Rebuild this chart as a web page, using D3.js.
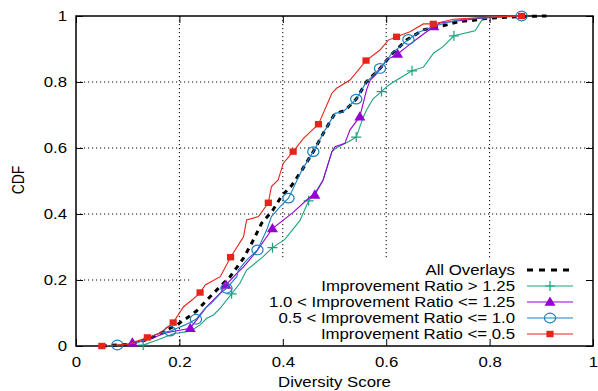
<!DOCTYPE html>
<html>
<head>
<meta charset="utf-8">
<script src="https://cdn.jsdelivr.net/npm/d3@7"></script>
<style>
  body { margin: 0; background: #fff; }
  text { font-family: "Liberation Sans", Arial, sans-serif; font-size: 14px; fill: #000; }
</style>
</head>
<body>
<div id="chart"></div>
<script>
// tick values + labels
const X_TICKS = [0, 0.2, 0.4, 0.6, 0.8, 1];
const X_LABELS = ["0", "0.2", "0.4", "0.6", "0.8", "1"];
const Y_TICKS = [0, 0.2, 0.4, 0.6, 0.8, 1];
const Y_LABELS = ["0", "0.2", "0.4", "0.6", "0.8", "1"];

const SERIES_NAMES = ["All Overlays", "Improvement Ratio > 1.25", "1.0 < Improvement Ratio <= 1.25",
  "0.5 < Improvement Ratio <= 1.0", "Improvement Ratio <= 0.5"];

// CDF points [diversity score, cdf]
const allOverlays = [[0.05,0],[0.10,0.005],[0.14,0.02],[0.175,0.048],[0.195,0.064],[0.214,0.084],[0.233,0.106],
  [0.250,0.134],[0.266,0.160],[0.298,0.21],[0.324,0.266],[0.343,0.321],[0.359,0.372],[0.380,0.41],[0.398,0.455],
  [0.417,0.486],[0.437,0.533],[0.459,0.589],[0.482,0.655],[0.501,0.705],[0.520,0.713],[0.542,0.748],[0.562,0.801],
  [0.588,0.841],[0.611,0.885],[0.640,0.928],[0.672,0.958],[0.717,0.973],[0.743,0.984],[0.765,0.986],[0.80,0.994],
  [0.86,0.998],[0.91,1.0]];

const ratioAbove125 = [[0.130,0.003],[0.16,0.02],[0.188,0.037],[0.221,0.045],[0.240,0.064],[0.253,0.084],[0.266,0.094],
  [0.279,0.115],[0.301,0.158],[0.317,0.190],[0.330,0.230],[0.362,0.271],[0.380,0.298],[0.404,0.323],[0.433,0.380],
  [0.450,0.440],[0.465,0.47],[0.478,0.503],[0.495,0.589],[0.503,0.60],[0.527,0.619],[0.542,0.633],[0.556,0.695],
  [0.562,0.715],[0.575,0.750],[0.591,0.771],[0.601,0.786],[0.614,0.800],[0.650,0.834],[0.672,0.845],[0.692,0.888],
  [0.710,0.907],[0.731,0.940],[0.772,0.955],[0.786,0.990],[0.80,0.997],[0.86,1.0]];
const ratioAbove125Marks = [0, 8, 12, 15, 21, 25, 28, 32];

const ratio100to125 = [[0.109,0.010],[0.14,0.02],[0.175,0.040],[0.221,0.054],[0.253,0.119],[0.279,0.160],[0.290,0.185],
  [0.311,0.220],[0.324,0.240],[0.349,0.286],[0.380,0.356],[0.42,0.405],[0.453,0.452],[0.462,0.458],[0.478,0.503],
  [0.495,0.589],[0.501,0.604],[0.520,0.614],[0.530,0.655],[0.549,0.695],[0.562,0.776],[0.569,0.806],[0.582,0.826],
  [0.601,0.867],[0.622,0.885],[0.640,0.907],[0.665,0.937],[0.692,0.968],[0.704,0.979],[0.787,0.994],[0.86,1.0]];
const ratio100to125Marks = [0, 3, 6, 10, 13, 19, 24, 27];

const ratio050to100 = [[0.080,0.003],[0.12,0.01],[0.156,0.036],[0.182,0.045],[0.211,0.064],[0.232,0.081],[0.25,0.115],
  [0.262,0.13],[0.28,0.16],[0.291,0.175],[0.311,0.21],[0.314,0.23],[0.33,0.26],[0.351,0.291],[0.369,0.352],
  [0.378,0.392],[0.395,0.422],[0.411,0.448],[0.437,0.533],[0.459,0.589],[0.482,0.655],[0.501,0.705],[0.517,0.710],
  [0.542,0.748],[0.562,0.801],[0.569,0.811],[0.588,0.841],[0.611,0.887],[0.643,0.929],[0.665,0.952],[0.691,0.968],
  [0.736,0.988],[0.80,0.997],[0.862,1.0]];
const ratio050to100Marks = [0, 3, 5, 9, 13, 17, 19, 23, 26, 28, 33];

const ratioBelow050 = [[0.05,0],[0.10,0.005],[0.138,0.026],[0.162,0.038],[0.188,0.071],[0.208,0.119],[0.225,0.14],
  [0.240,0.162],[0.250,0.185],[0.279,0.21],[0.299,0.269],[0.324,0.331],[0.330,0.382],[0.353,0.392],[0.372,0.434],
  [0.378,0.483],[0.391,0.503],[0.401,0.554],[0.420,0.589],[0.440,0.629],[0.469,0.672],[0.495,0.766],[0.504,0.781],
  [0.530,0.806],[0.561,0.865],[0.588,0.897],[0.604,0.927],[0.620,0.937],[0.646,0.952],[0.672,0.976],[0.691,0.976],
  [0.730,0.99],[0.80,0.997],[0.862,1.0]];
const ratioBelow050Marks = [0, 2, 4, 7, 10, 14, 18, 20, 24, 27, 30, 33];

const margin = {top: 16, right: 5, bottom: 45, left: 76},
    width = 517,
    height = 330;
const SX = 1.2; // text in the original is stretched sideways

const svg = d3.select("#chart")
  .append("svg")
  .attr("width", 598)
  .attr("height", 391)
  .append("g")
  .attr("transform", `translate(${margin.left},${margin.top})`);

const x = d3.scaleLinear().domain([0, 1]).range([0, width]);
const y = d3.scaleLinear().domain([0, 1]).range([height, 0]);

// key area hides grid lines
const keyLeft = 116, keyTop = 244;

// grid
const grid = svg.append("g")
  .attr("stroke", "#000")
  .attr("stroke-width", 1)
  .attr("stroke-dasharray", "1.2,2.8");
grid.selectAll(".gx")
  .data(X_TICKS.slice(1, -1))
  .join("line")
    .attr("x1", d => x(d)).attr("x2", d => x(d))
    .attr("y1", y(1))
    .attr("y2", d => x(d) > keyLeft ? keyTop : height);
grid.selectAll(".gy")
  .data(Y_TICKS.slice(1, -1))
  .join("line")
    .attr("class", "gy")
    .attr("y1", d => y(d)).attr("y2", d => y(d))
    .attr("x1", 0)
    .attr("x2", d => y(d) > keyTop ? keyLeft : width);

// axes, ticks point inward
const xAxis = svg.append("g")
  .attr("transform", `translate(0,${height})`)
  .call(d3.axisBottom(x).tickValues(X_TICKS).tickFormat((d, i) => X_LABELS[i]).tickSize(-7).tickSizeOuter(0).tickPadding(11));
const yAxis = svg.append("g")
  .call(d3.axisLeft(y).tickValues(Y_TICKS).tickFormat((d, i) => Y_LABELS[i]).tickSize(-7).tickSizeOuter(0).tickPadding(7.5));
svg.append("g")
  .call(d3.axisTop(x).tickValues(X_TICKS).tickFormat("").tickSize(-7).tickSizeOuter(0));
svg.append("g")
  .attr("transform", `translate(${width},0)`)
  .call(d3.axisRight(y).tickValues(Y_TICKS).tickFormat("").tickSize(-7).tickSizeOuter(0));

svg.selectAll(".domain").remove();
svg.selectAll(".tick line").attr("stroke", "#000").attr("stroke-width", 1);
svg.selectAll(".tick text")
  .attr("transform", `scale(${SX},1)`)
  .style("font-family", "'Liberation Sans', Arial, sans-serif")
  .style("font-size", "14px");

// frame
svg.append("rect")
  .attr("width", width)
  .attr("height", height)
  .attr("fill", "none")
  .attr("stroke", "#000")
  .attr("stroke-width", 1.5);

// markers
function drawMarker(sel, type, color) {
  if (type === "plus") {
    sel.append("path").attr("d", "M-5,0H5M0,-5V5").attr("stroke", color).attr("stroke-width", 1.2).attr("fill", "none");
  } else if (type === "triangle") {
    sel.append("path").attr("d", "M0,-5.5L5.5,3.8L-5.5,3.8Z").attr("fill", color);
  } else if (type === "circle") {
    sel.append("ellipse").attr("rx", 5.6).attr("ry", 4.8).attr("fill", "none").attr("stroke", color).attr("stroke-width", 1.2);
  } else if (type === "square") {
    sel.append("rect").attr("x", -3.6).attr("y", -3.2).attr("width", 7.2).attr("height", 6.4).attr("fill", color);
  }
}

const series = [
  {name: SERIES_NAMES[0], data: allOverlays, marks: [], color: "#000", marker: null, dashed: true},
  {name: SERIES_NAMES[1], data: ratioAbove125, marks: ratioAbove125Marks, color: "#1aa37e", marker: "plus"},
  {name: SERIES_NAMES[2], data: ratio100to125, marks: ratio100to125Marks, color: "#9400d3", marker: "triangle"},
  {name: SERIES_NAMES[3], data: ratio050to100, marks: ratio050to100Marks, color: "#1a7fc0", marker: "circle"},
  {name: SERIES_NAMES[4], data: ratioBelow050, marks: ratioBelow050Marks, color: "#e8241a", marker: "square"}
];

const line = d3.line().x(d => x(d[0])).y(d => y(d[1]));

series.forEach(s => {
  svg.append("path")
    .datum(s.data)
    .attr("d", line)
    .attr("fill", "none")
    .attr("stroke", s.color)
    .attr("stroke-width", s.dashed ? 3 : 1.1)
    .attr("stroke-dasharray", s.dashed ? "5,5" : null);
  if (s.marker) {
    svg.append("g")
      .selectAll("g")
      .data(s.marks.map(i => s.data[i]))
      .join("g")
        .attr("transform", d => `translate(${x(d[0])},${y(d[1])})`)
        .each(function() { drawMarker(d3.select(this), s.marker, s.color); });
  }
});

// legend
const legend = svg.append("g").attr("transform", `translate(0,${keyTop})`);
series.forEach((s, i) => {
  const ly = 10 + i * 16;
  legend.append("text")
    .attr("transform", `translate(439,${ly + 5}) scale(${SX},1)`)
    .attr("text-anchor", "end")
    .text(s.name);
  legend.append("line")
    .attr("x1", 451).attr("x2", 497)
    .attr("y1", ly).attr("y2", ly)
    .attr("stroke", s.color)
    .attr("stroke-width", s.dashed ? 3 : 1.1)
    .attr("stroke-dasharray", s.dashed ? "6,6" : null);
  if (s.marker) {
    drawMarker(legend.append("g").attr("transform", `translate(474,${ly})`), s.marker, s.color);
  }
});

// axis labels
svg.append("text")
  .attr("transform", `translate(${width / 2},${height + 41}) scale(${SX},1)`)
  .attr("text-anchor", "middle")
  .text("Diversity Score");

svg.append("text")
  .attr("transform", `translate(-52.5,${height / 2 - 1}) scale(${SX},1) rotate(-90)`)
  .attr("text-anchor", "middle")
  .text("CDF");
</script>
</body>
</html>
